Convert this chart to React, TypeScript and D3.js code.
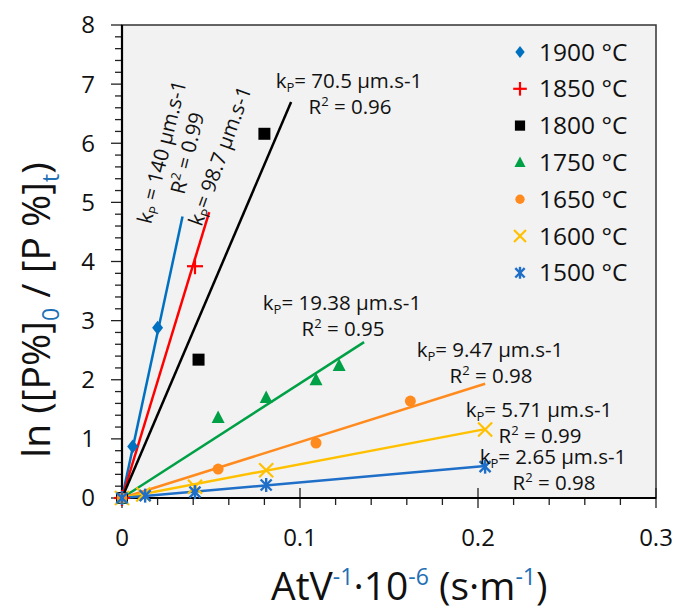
import React from 'react';
import * as d3 from 'd3';

// ---- data ----
const seriesNames = ['1900 °C', '1850 °C', '1800 °C', '1750 °C', '1650 °C', '1600 °C', '1500 °C'];
const seriesColors = ['#0070c0', '#ff0000', '#000000', '#00a046', '#ff8b1f', '#ffc000', '#1f6fc8'];
const seriesMarkers = ['diamond', 'plus', 'square', 'triangle', 'circle', 'x', 'star'];
const kpValues = [140, 98.7, 70.5, 19.38, 9.47, 5.71, 2.65];
const lineEndX = [0.034, 0.049, 0.095, 0.136, 0.204, 0.204, 0.204];

const x1900 = [0, 0.006, 0.02];
const y1900 = [0, 0.87, 2.88];
const x1850 = [0, 0.041];
const y1850 = [0, 3.92];
const x1800 = [0, 0.043, 0.08];
const y1800 = [0, 2.34, 6.16];
const x1750 = [0, 0.054, 0.081, 0.109, 0.122];
const y1750 = [0, 1.36, 1.7, 2.0, 2.24];
const x1650 = [0, 0.054, 0.109, 0.162];
const y1650 = [0, 0.49, 0.93, 1.64];
const x1600 = [0, 0.012, 0.041, 0.081, 0.204];
const y1600 = [0, 0.06, 0.19, 0.47, 1.16];
const x1500 = [0, 0.013, 0.041, 0.081, 0.204];
const y1500 = [0, 0.04, 0.1, 0.22, 0.53];

const seriesX = [x1900, x1850, x1800, x1750, x1650, x1600, x1500];
const seriesY = [y1900, y1850, y1800, y1750, y1650, y1600, y1500];

const kpLabels = ['140', '98.7', '70.5', '19.38', '9.47', '5.71', '2.65'];
const r2Labels = ['0.99', '', '0.96', '0.95', '0.98', '0.99', '0.98'];

const xTicks = [0, 0.1, 0.2, 0.3];
const yTicks = [0, 1, 2, 3, 4, 5, 6, 7, 8];

const FONT = '"Open Sans", "Noto Sans", sans-serif';
const AF = 20.5;

function Marker({ type, color, cx, cy, s = 1 }: { type: string; color: string; cx: number; cy: number; s?: number }) {
  const k = s;
  switch (type) {
    case 'diamond':
      return <path d={`M${cx},${cy - 7 * k}L${cx + 5.5 * k},${cy}L${cx},${cy + 7 * k}L${cx - 5.5 * k},${cy}Z`} fill={color} />;
    case 'plus':
      return (
        <g stroke={color} strokeWidth={2.2}>
          <line x1={cx - 8 * k} x2={cx + 8 * k} y1={cy} y2={cy} />
          <line x1={cx} x2={cx} y1={cy - 8 * k} y2={cy + 8 * k} />
        </g>
      );
    case 'square':
      return <rect x={cx - 6 * k} y={cy - 6 * k} width={12 * k} height={12 * k} fill={color} />;
    case 'triangle':
      return <path d={`M${cx},${cy - 7 * k}L${cx + 6.5 * k},${cy + 5.5 * k}L${cx - 6.5 * k},${cy + 5.5 * k}Z`} fill={color} />;
    case 'circle':
      return <circle cx={cx} cy={cy} r={5.5 * k} fill={color} />;
    case 'x':
      return (
        <g stroke={color} strokeWidth={2.2}>
          <line x1={cx - 7 * k} x2={cx + 7 * k} y1={cy - 7 * k} y2={cy + 7 * k} />
          <line x1={cx - 7 * k} x2={cx + 7 * k} y1={cy + 7 * k} y2={cy - 7 * k} />
        </g>
      );
    case 'star':
      return (
        <g stroke={color} strokeWidth={2.4}>
          <line x1={cx - 5.5 * k} x2={cx + 5.5 * k} y1={cy - 5.5 * k} y2={cy + 5.5 * k} />
          <line x1={cx - 5.5 * k} x2={cx + 5.5 * k} y1={cy + 5.5 * k} y2={cy - 5.5 * k} />
          <line x1={cx} x2={cx} y1={cy - 7 * k} y2={cy + 7 * k} />
        </g>
      );
    default:
      return null;
  }
}

function KpLine({ kp, x, y, anchor = 'middle', sep = '= ' }: { kp: string; x: number; y: number; anchor?: string; sep?: string }) {
  return (
    <text x={x} y={y} textAnchor={anchor} fontSize={AF} fontFamily={FONT} fill="#111">
      k<tspan fontSize={13} dy={4}>P</tspan>
      <tspan dy={-4}>{sep}{kp} µm.s-1</tspan>
    </text>
  );
}

function R2Line({ r2, x, y, anchor = 'middle' }: { r2: string; x: number; y: number; anchor?: string }) {
  return (
    <text x={x} y={y} textAnchor={anchor} fontSize={AF} fontFamily={FONT} fill="#111">
      R<tspan fontSize={13} dy={-8}>2</tspan>
      <tspan dy={8}> = {r2}</tspan>
    </text>
  );
}

export default function App() {
  const W = 674;
  const H = 610;
  const x = d3.scaleLinear().domain([0, 0.3]).range([122, 656]);
  const y = d3.scaleLinear().domain([0, 8]).range([498, 25]);

  const xMinor = d3.range(0, 0.3001, 0.02);
  const yMinor = d3.range(0, 8.001, 0.2);

  const line = d3.line<[number, number]>().x((d) => x(d[0])).y((d) => y(d[1]));

  const plainAnn = [
    { i: 2, cx: 349, by: 88 },
    { i: 3, cx: 342, by: 310 },
    { i: 4, cx: 490, by: 357 },
    { i: 5, cx: 539, by: 417 },
    { i: 6, cx: 553, by: 464 },
  ];

  return (
    <svg width={W} height={H} style={{ position: 'absolute', left: 0, top: 0, background: '#fff' }}>
      <rect x={x(0)} y={y(8)} width={x(0.3) - x(0)} height={y(0) - y(8)} fill="#f2f2f2" stroke="#333" strokeWidth={1.5} />

      {yMinor.map((v, i) => {
        const major = Math.abs(v - Math.round(v)) < 1e-6;
        return <line key={'ym' + i} x1={x(0) - (major ? 11 : 7)} x2={x(0)} y1={y(v)} y2={y(v)} stroke="#222" strokeWidth={1.3} />;
      })}
      {xMinor.map((v, i) => {
        const major = Math.abs(v * 10 - Math.round(v * 10)) < 1e-6;
        return <line key={'xm' + i} x1={x(v)} x2={x(v)} y1={y(0) - (major ? 10 : 0)} y2={y(0) + (major ? 10 : 7)} stroke="#222" strokeWidth={1.3} />;
      })}
      <line x1={x(0)} x2={x(0)} y1={y(8)} y2={y(0)} stroke="#000" strokeWidth={2.2} />
      <line x1={x(0)} x2={x(0.3)} y1={y(0)} y2={y(0)} stroke="#000" strokeWidth={2.2} />

      {yTicks.map((v) => (
        <text key={'yl' + v} x={95} y={y(v)} dy="0.35em" textAnchor="end" fontSize={24} fontFamily={FONT} fill="#111">
          {v}
        </text>
      ))}
      {xTicks.map((v) => (
        <text key={'xl' + v} x={x(v)} y={546} textAnchor="middle" fontSize={24} fontFamily={FONT} fill="#111">
          {v}
        </text>
      ))}

      {kpValues.map((k, i) => (
        <path
          key={'fl' + i}
          d={line([
            [0, 0],
            [lineEndX[i], k * lineEndX[i]],
          ]) as string}
          stroke={seriesColors[i]}
          strokeWidth={2.5}
          fill="none"
        />
      ))}

      {seriesX.map((xs, i) =>
        xs.map((xv, j) => <Marker key={`m${i}-${j}`} type={seriesMarkers[i]} color={seriesColors[i]} cx={x(xv)} cy={y(seriesY[i][j])} />)
      )}

      {plainAnn.map((a) => (
        <g key={'ann' + a.i}>
          <KpLine kp={kpLabels[a.i]} x={a.cx} y={a.by} />
          <R2Line r2={r2Labels[a.i]} x={a.cx + 1} y={a.by + 26} />
        </g>
      ))}
      <g transform="translate(162,152) rotate(-76)">
        <KpLine kp={kpLabels[0]} x={0} y={7} sep=" = " />
        <R2Line r2={r2Labels[0]} x={5} y={32} />
      </g>
      <g transform="translate(220,156) rotate(-70)">
        <KpLine kp={kpLabels[1]} x={0} y={7} />
      </g>

      {seriesNames.map((n, i) => {
        const cy = 52 + i * 36.8;
        return (
          <g key={'lg' + i}>
            <Marker type={seriesMarkers[i]} color={seriesColors[i]} cx={520} cy={cy} s={0.85} />
            <text x={539} y={cy} dy="0.35em" fontSize={24.5} fontFamily={FONT} fill="#111">
              {n}
            </text>
          </g>
        );
      })}

      <text x={271} y={600} fontSize={39} fontFamily={FONT} fill="#111">
        AtV<tspan fontSize={23} dy={-15} fill="#1f6fb5">-1</tspan>
        <tspan dy={15}>·10</tspan>
        <tspan fontSize={23} dy={-15} fill="#1f6fb5">-6</tspan>
        <tspan dy={15}> (s·m</tspan>
        <tspan fontSize={23} dy={-15} fill="#1f6fb5">-1</tspan>
        <tspan dy={15}>)</tspan>
      </text>
      <g transform="translate(36,310) rotate(-90)">
        <text x={0} y={0} dy="0.35em" textAnchor="middle" fontSize={39} fontFamily={FONT} fill="#111">
          ln ([P%]<tspan fontSize={23} dy={9} fill="#1f6fb5">0</tspan>
          <tspan dy={-9}> / [P %]</tspan>
          <tspan fontSize={23} dy={9} fill="#1f6fb5">t</tspan>
          <tspan dy={-9}>)</tspan>
        </text>
      </g>
    </svg>
  );
}
